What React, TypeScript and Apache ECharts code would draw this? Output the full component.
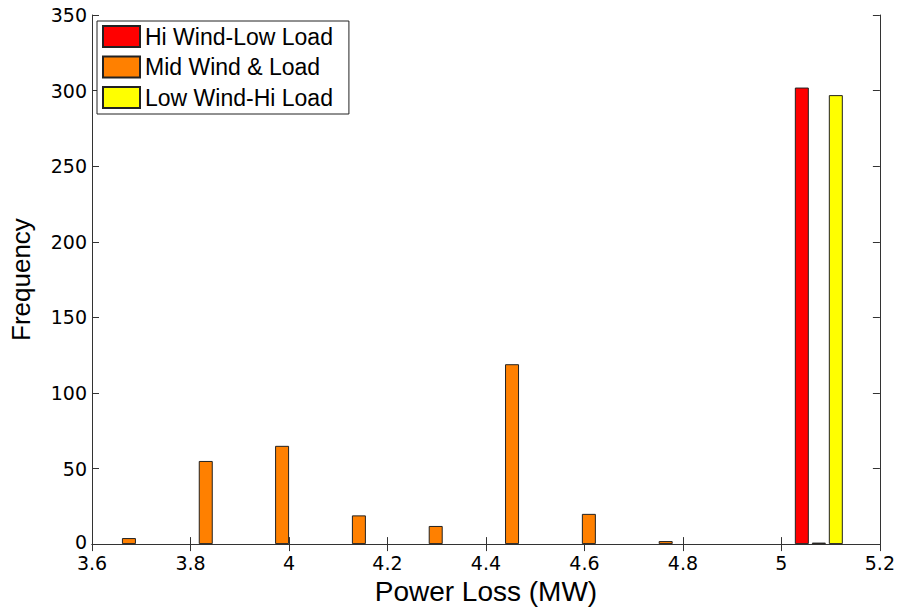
import React, { useEffect, useRef } from "react";
import * as echarts from "echarts";

const binCenters = [3.675, 3.831, 3.986, 4.142, 4.298, 4.453, 4.609, 4.765, 4.921, 5.076];
const hiWindLowLoad = [0, 0, 0, 0, 0, 0, 0, 0, 0, 302];
const midWindLoad = [4, 55, 65, 19, 12, 119, 20, 2, 0, 1];
const lowWindHiLoad = [0, 0, 0, 0, 0, 0, 0, 0, 0, 297];
const seriesNames = ["Hi Wind-Low Load", "Mid Wind & Load", "Low Wind-Hi Load"];
const seriesColors = ["#ff0000", "#ff8000", "#ffff00"];
const seriesValues = [hiWindLowLoad, midWindLoad, lowWindHiLoad];

const FONT = "Liberation Sans, Arial, Helvetica, sans-serif";
const TICK_FONT = "DejaVu Sans, Liberation Sans, sans-serif";

export default function App() {
  const ref = useRef<HTMLDivElement>(null);
  useEffect(() => {
    if (!ref.current) return;
    const chart = echarts.init(ref.current, undefined, { renderer: "svg" });
    const axisLine = { show: true, lineStyle: { color: "#333", width: 1 } };
    const tick = { show: true, inside: true, length: 7, lineStyle: { color: "#333" } };
    const xCommon = {
      type: "value" as const,
      min: 3.6,
      max: 5.2,
      interval: 0.2,
      splitLine: { show: false },
      axisLine,
      axisTick: tick,
    };
    const yCommon = {
      type: "value" as const,
      min: 0,
      max: 350,
      interval: 50,
      splitLine: { show: false },
      axisLine,
      axisTick: tick,
    };
    chart.setOption({
      animation: false,
      backgroundColor: "#ffffff",
      textStyle: { fontFamily: FONT },
      grid: { left: 89, right: 16, top: 15, bottom: 61 },
      legend: {
        orient: "vertical",
        left: 97,
        top: 21,
        padding: [4, 16, 5, 5],
        itemWidth: 37,
        itemHeight: 21,
        itemGap: 7.5,
        borderColor: "#222",
        borderWidth: 1,
        borderRadius: 0,
        backgroundColor: "#fff",
        textStyle: { fontFamily: FONT, fontSize: 23, lineHeight: 21, color: "#000" },
        data: seriesNames.map((n) => ({ name: n, icon: "rect" })),
      },
      xAxis: [
        {
          ...xCommon,
          position: "bottom",
          name: "Power Loss (MW)",
          nameLocation: "middle",
          nameGap: 29,
          nameTextStyle: { fontFamily: FONT, fontSize: 28, color: "#000" },
          axisLabel: { fontFamily: TICK_FONT, fontSize: 19, lineHeight: 15, color: "#000", margin: 11 },
        },
        { ...xCommon, position: "top", axisLabel: { show: false } },
      ],
      yAxis: [
        {
          ...yCommon,
          position: "left",
          name: "Frequency",
          nameLocation: "middle",
          nameGap: 58,
          nameTextStyle: { fontFamily: FONT, fontSize: 26, color: "#000" },
          axisLabel: {
            fontFamily: TICK_FONT,
            fontSize: 19,
            lineHeight: 15,
            color: "#000",
            margin: 5,
            formatter: (v: number) => (v === 0 ? "{z|0}" : String(v)),
            rich: {
              z: { fontFamily: TICK_FONT, fontSize: 19, lineHeight: 15, color: "#000", padding: [0, 0, 5, 0] },
            },
          },
        },
        { ...yCommon, position: "right", axisLabel: { show: false } },
      ],
      series: seriesNames.map((name, i) => ({
        name,
        type: "bar",
        xAxisIndex: 0,
        yAxisIndex: 0,
        barWidth: 14,
        barGap: "21.4%",
        itemStyle: { color: seriesColors[i], borderColor: "#222", borderWidth: 1 },
        data: binCenters.map((c, k) => [c, seriesValues[i][k] === 0 ? "-" : seriesValues[i][k]]),
      })),
    });
    return () => chart.dispose();
  }, []);
  return (
    <div
      ref={ref}
      style={{ position: "fixed", left: 0, top: 0, width: 898, height: 610 }}
    />
  );
}
